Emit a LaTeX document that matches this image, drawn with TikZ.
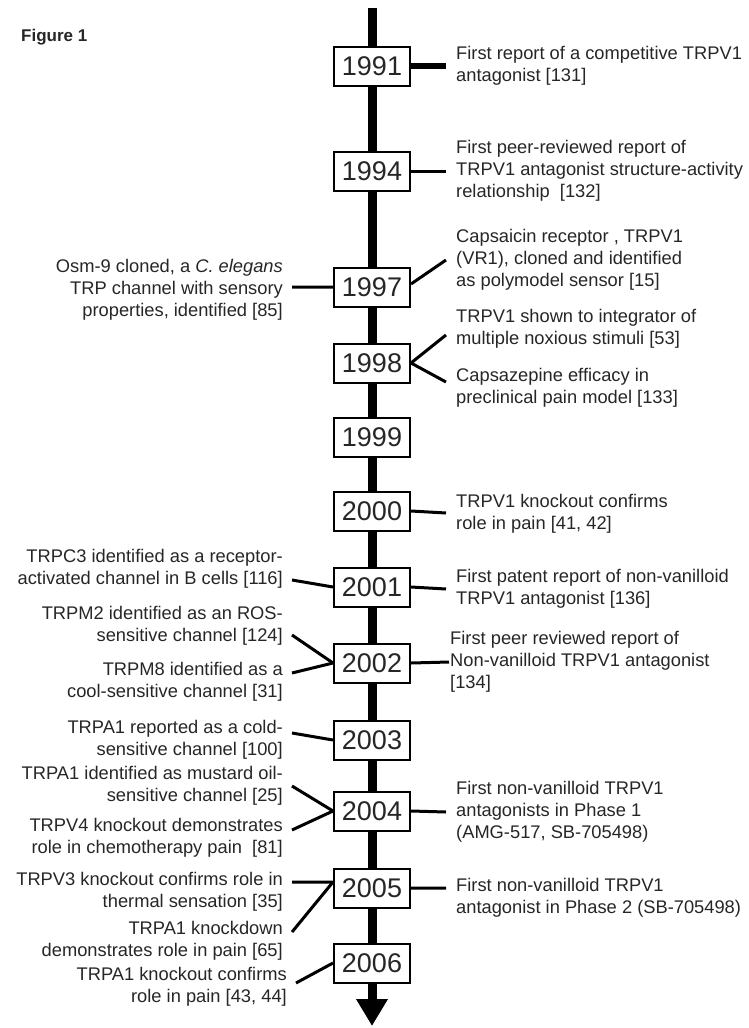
\documentclass[tikz,border=0pt]{standalone}
\usepackage{fontspec}
\setmainfont{Liberation Sans}
\usetikzlibrary{arrows.meta}
\tikzset{
  >=latex,
}
\tikzstyle{every node}=[font=\fontsize{18.3bp}{22bp}\selectfont,text=black!85]
\tikzstyle{year}=[draw=black,line width=2bp,fill=white,minimum width=76bp,minimum height=39bp,inner sep=0pt,font=\fontsize{27bp}{27bp}\selectfont]
\tikzstyle{rnote}=[anchor=west,align=left,inner xsep=10bp,inner ysep=0pt]
\tikzstyle{lnote}=[anchor=east,align=right,inner xsep=9bp,inner ysep=0pt]
\tikzstyle{link}=[line width=3bp]

\begin{document}
\begin{tikzpicture}[x=1bp,y=-1bp]
    \useasboundingbox (0,0) rectangle (749,1028);
    \node[anchor=west,inner sep=0pt,font=\bfseries\fontsize{17bp}{17bp}\selectfont] (fig) at (21,37) {Figure 1};

    \coordinate (top) at (372,8);
    \coordinate (bottom) at (372,1026);
    \draw[line width=9bp,-{Triangle[length=27bp,width=30bp]}] (top) -- (bottom);

    \node[year] (y1991) at (372,66) {1991};
    \node[year] (y1994) at (372,171) {1994};
    \node[year] (y1997) at (372,287) {1997};
    \node[year] (y1998) at (372,363) {1998};
    \node[year] (y1999) at (372,437) {1999};
    \node[year] (y2000) at (372,511) {2000};
    \node[year] (y2001) at (372,587) {2001};
    \node[year] (y2002) at (372,663) {2002};
    \node[year] (y2003) at (372,740) {2003};
    \node[year] (y2004) at (372,811) {2004};
    \node[year] (y2005) at (372,888) {2005};
    \node[year] (y2006) at (372,963) {2006};

    % right side
    \node[rnote] (r1991) at (446,66) {First report of a competitive TRPV1\\antagonist [131]};
    \node[rnote] (r1994) at (446,171) {First peer-reviewed report of\\TRPV1 antagonist structure-activity\\relationship\ \ [132]};
    \node[rnote] (r1997) at (446,260) {Capsaicin receptor , TRPV1\\(VR1), cloned and identified\\as polymodel sensor [15]};
    \node[rnote] (r1998a) at (446,329) {TRPV1 shown to integrator of\\multiple noxious stimuli [53]};
    \node[rnote] (r1998b) at (446,388) {Capsazepine efficacy in\\preclinical pain model [133]};
    \node[rnote] (r2000) at (446,514) {TRPV1 knockout confirms\\role in pain [41, 42]};
    \node[rnote] (r2001) at (446,589) {First patent report of non-vanilloid\\TRPV1 antagonist [136]};
    \node[rnote,inner xsep=1bp] (r2002) at (449,662) {First peer reviewed report of\\Non-vanilloid TRPV1 antagonist\\{}[134]};
    \node[rnote] (r2004) at (446,812) {First non-vanilloid TRPV1\\antagonists in Phase 1\\(AMG-517, SB-705498)};
    \node[rnote] (r2005) at (446,898) {First non-vanilloid TRPV1\\antagonist in Phase 2 (SB-705498)};

    \draw[link,line width=6bp] (y1991.east) -- (r1991.west);
    \draw[link] (y1994.east) -- (r1994.west);
    \draw[link] ([yshift=3bp]y1997.east) -- (r1997.west);
    \draw[link] (y1998.east) -- ([yshift=-6bp]r1998a.west);
    \draw[link] (y1998.east) -- ([yshift=6bp]r1998b.west);
    \draw[link] (y2000.east) -- ([yshift=1bp]r2000.west);
    \draw[link] (y2001.east) -- (r2001.west);
    \draw[link] (y2002.east) -- (r2002.west);
    \draw[link] (y2004.east) -- (r2004.west);
    \draw[link] (y2005.east) -- ([yshift=10bp]r2005.west);

    % left side
    \node[lnote] (l1997) at (292,290) {Osm-9 cloned, a \textit{C. elegans}\\TRP channel with sensory\\properties, identified [85]};
    \node[lnote] (l2001) at (292,569) {TRPC3 identified as a receptor-\\activated channel in B cells [116]};
    \node[lnote] (l2002a) at (292,626) {TRPM2 identified as an ROS-\\sensitive channel [124]};
    \node[lnote] (l2002b) at (292,682) {TRPM8 identified as a\\cool-sensitive channel [31]};
    \node[lnote] (l2003) at (292,740) {TRPA1 reported as a cold-\\sensitive channel [100]};
    \node[lnote] (l2004a) at (292,786) {TRPA1 identified as mustard oil-\\sensitive channel [25]};
    \node[lnote] (l2004b) at (292,838) {TRPV4 knockout demonstrates\\role in chemotherapy pain\ \ [81]};
    \node[lnote] (l2005a) at (292,892) {TRPV3 knockout confirms role in\\thermal sensation [35]};
    \node[lnote] (l2005b) at (292,941) {TRPA1 knockdown\\demonstrates role in pain [65]};
    \node[lnote] (l2006) at (296,987) {TRPA1 knockout confirms\\role in pain [43, 44]};

    \draw[link] ([yshift=3bp]l1997.east) -- (y1997.west);
    \draw[link] ([yshift=-11bp]l2001.east) -- (y2001.west);
    \draw[link] ([yshift=-9bp]l2002a.east) -- (y2002.west);
    \draw[link] ([yshift=9bp]l2002b.east) -- (y2002.west);
    \draw[link] ([yshift=7bp]l2003.east) -- (y2003.west);
    \draw[link] (l2004a.east) -- (y2004.west);
    \draw[link] ([yshift=8bp]l2004b.east) -- (y2004.west);
    \draw[link] ([yshift=10bp]l2005a.east) -- ([yshift=6bp]y2005.west);
    \draw[link] ([yshift=9bp]l2005b.east) -- ([yshift=6bp]y2005.west);
    \draw[link] ([yshift=4bp]l2006.east) -- (y2006.west);
\end{tikzpicture}
\end{document}
